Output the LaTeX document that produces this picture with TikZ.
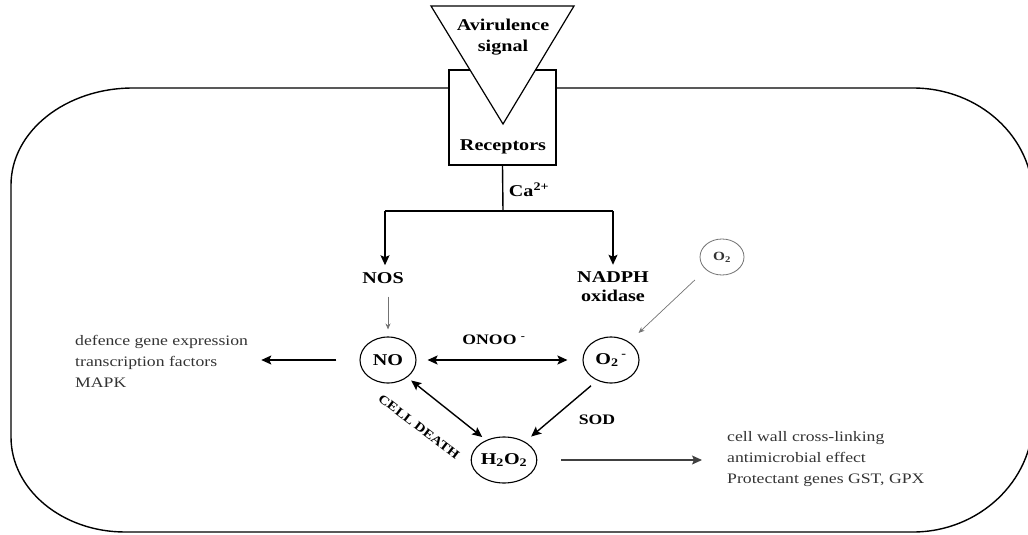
\documentclass[tikz,border=0pt]{standalone}
\usepackage{fontspec}
\setmainfont{Liberation Serif}[FakeStretch=1.22]
\usetikzlibrary{arrows.meta,shapes.geometric}
\begin{document}
\begin{tikzpicture}[x=1pt,y=-1pt,
  lbl/.style={font=\fontsize{16.5}{21}\selectfont\bfseries, inner sep=0pt, text=black},
  sml/.style={font=\fontsize{14.5}{17}\selectfont\bfseries, inner sep=0pt, text=black},
  txt/.style={font=\fontsize{14.5}{21}\selectfont, align=left, inner sep=0pt, text=black!80},
  mol/.style={ellipse, draw, line width=1.1pt, minimum width=56pt, minimum height=46pt, inner sep=0pt, font=\fontsize{16.5}{20}\selectfont\bfseries},
  arr/.style={line width=1.4pt, -{Stealth[length=10pt,width=9pt,inset=2pt]}},
  darr/.style={line width=1.4pt, {Stealth[length=10pt,width=9pt,inset=2pt]}-{Stealth[length=10pt,width=9pt,inset=2pt]}},
  thinarr/.style={line width=0.7pt, draw=black!55, -{Stealth[length=6pt,width=5pt]}},
  cell/.style={line width=1.4pt}
]
\useasboundingbox (0,0) rectangle (1028,535);
% receptor box
\node[draw, line width=1.2pt, minimum width=107pt, minimum height=95pt, inner sep=0pt] (rec) at (502.5,117.5) {};
% cell outline
\draw[cell] (449,88) -- (133,88) .. controls (65.6,88) and (11,131.4) .. (11,185)
  -- (11,437) .. controls (11,489.4) and (62.1,532) .. (125,532)
  -- (913,532) .. controls (979,532) and (1033,481) .. (1033,419)
  -- (1033,198) .. controls (1033,137) and (979,88) .. (913,88) -- (556,88);
% avirulence triangle
\draw[line width=1.2pt, fill=white] (431,6) -- (574,6) -- (503,124) -- cycle;
\node[lbl, align=center] (avr) at (503,37.5) {Avirulence\\signal};
\node[lbl] (recl) at (503,147) {Receptors};
% Ca branch
\coordinate (br) at (503,211);
\coordinate (jl) at (385,211);
\coordinate (jr) at (613,211);
\draw[line width=1.4pt] (rec.south) -- (br);
\draw[line width=1.4pt] (jl) -- (jr);
\node[lbl] (ca) at (529,190) {Ca\textsuperscript{2+}};
\node[lbl] (nos) at (383,278) {NOS};
\node[lbl, align=center, font=\fontsize{16.5}{19}\selectfont\bfseries] (nadph) at (613,287) {NADPH\\oxidase};
\draw[arr, shorten >=7pt] (jl) -- (jl |- nos.north);
\draw[arr, shorten >=7pt] (jr) -- (jr |- nadph.north);
% molecules
\node[mol] (no) at (388,360) {NO};
\node[mol] (o2m) at (611,360) {O\textsubscript{2}\,\textsuperscript{-}};
\node[mol, minimum width=58pt] (h2o2) at (504,460) {H\textsubscript{2}O\textsubscript{2}};
\node[mol, draw=black!55, line width=0.8pt, minimum width=44pt, minimum height=36pt, font=\fontsize{12.5}{14}\selectfont\bfseries, text=black!80] (o2) at (722,257) {O\textsubscript{2}};
% thin arrows
\draw[thinarr, shorten <=13pt, shorten >=7pt] (no.north |- nos.south) -- (no.north);
\draw[thinarr, shorten <=15pt, shorten >=13pt] (o2.218) -- (o2m.45);
% NO <-> O2-
\node[sml] (onoo) at (494,340) {ONOO \textsuperscript{-}};
\draw[darr, shorten <=11pt, shorten >=15pt] (no) -- (o2m);
% side effects
\node[txt, anchor=west] (def) at (75,361) {defence gene expression\\transcription factors\\MAPK};
\draw[arr, shorten <=23pt, shorten >=13pt] (no.west) -- (no.west -| def.east);
\node[txt, anchor=west] (eff) at (727,459) {cell wall cross-linking\\antimicrobial effect\\Protectant genes GST, GPX};
\draw[arr, line width=1.1pt, draw=black!75, shorten <=24pt, shorten >=25pt] (h2o2.east) -- (h2o2.east -| eff.west);
% H2O2 links
\draw[arr, shorten <=8pt, shorten >=8pt] (o2m.236) -- (h2o2.41);
\draw[darr, shorten <=5pt, shorten >=5pt] (no.-42) -- (h2o2.132);
\node[sml] (sod) at (597,420) {SOD};
\node[sml, font=\fontsize{12.5}{14}\selectfont\bfseries, rotate=-37.5] (cd) at (419,427) {CELL DEATH};
\end{tikzpicture}
\end{document}
